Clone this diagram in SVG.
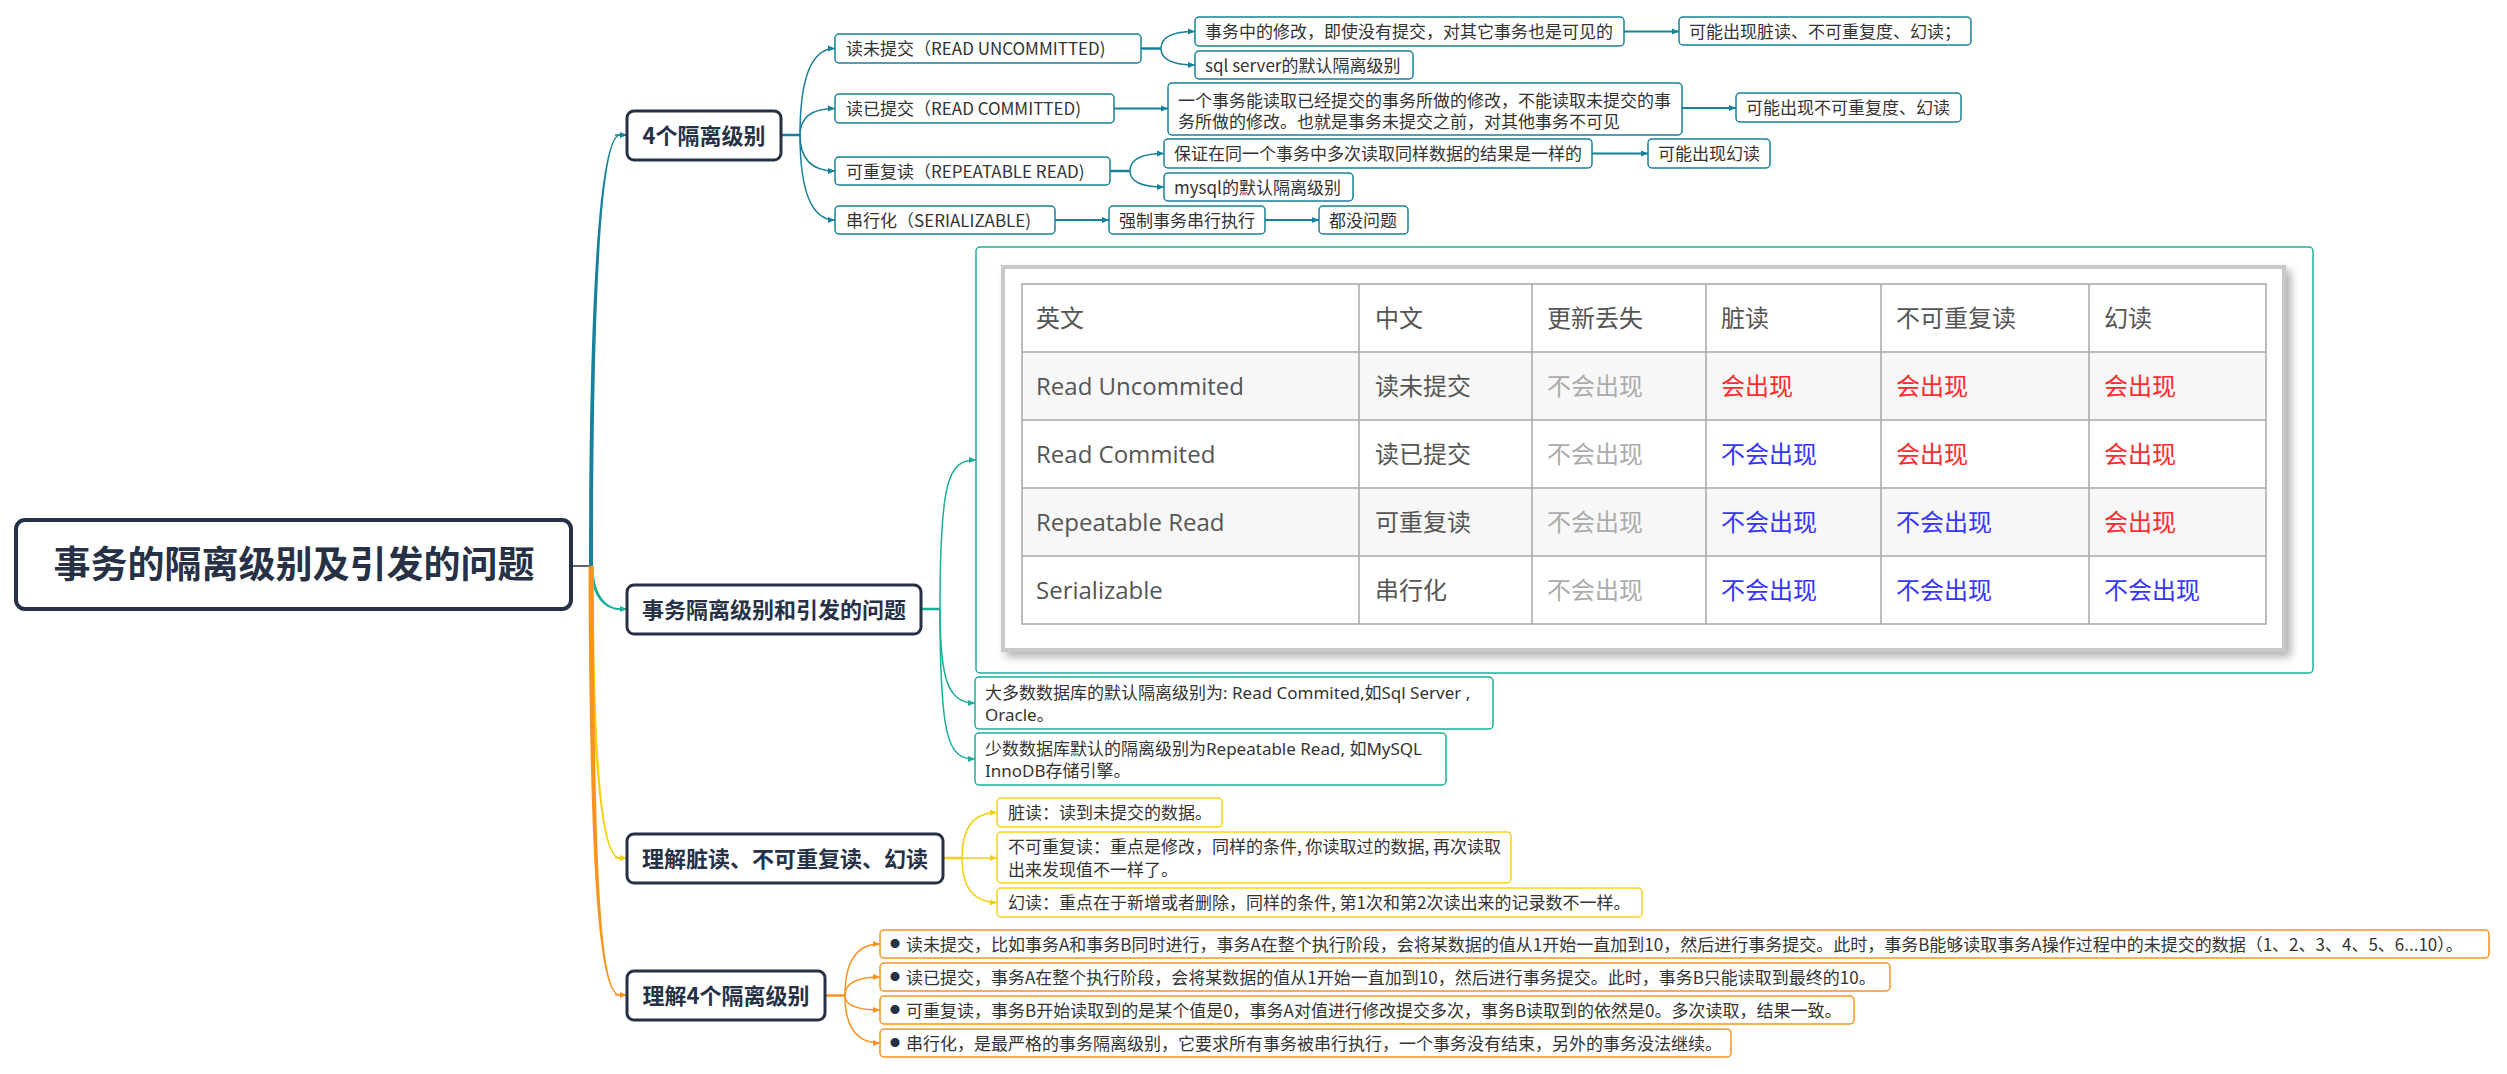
<svg xmlns="http://www.w3.org/2000/svg" width="2507" height="1074" viewBox="0 0 2507 1074">
<defs>
<style>
.bg{fill:#ffffff}
.box-root{fill:#fff;stroke:#263146;stroke-width:4}
.box-l1{fill:#fff;stroke:#263146;stroke-width:3}
.box-b{fill:#fff;stroke:#17809a;stroke-width:1.5}
.box-g{fill:#fff;stroke:#1aae9a;stroke-width:1.5}
.box-y{fill:#fff;stroke:#f7d116;stroke-width:1.5}
.box-o{fill:#fff;stroke:#f8931f;stroke-width:1.5}
.t-root{font-family:"Noto Sans CJK SC",sans-serif;font-weight:700;font-size:37px;fill:#263146;text-anchor:middle}
.t-l1{font-family:"Noto Sans CJK SC",sans-serif;font-weight:700;font-size:22px;fill:#263146;text-anchor:middle}
.t{font-family:"Noto Sans CJK SC",sans-serif;font-size:17px;fill:#333}
.t-w{font-family:"Noto Sans","Noto Sans CJK SC",sans-serif;font-size:17px;fill:#333}
.bul{font-size:10px;fill:#263146}
.tb{font-family:"Open Sans","Noto Sans CJK SC",sans-serif;font-size:24px;fill:#555}
.gray{fill:#ababab}
.red{fill:#ff2b2b}
.blue{fill:#3535ff}
.grid{stroke:#a8a8a8;stroke-width:1.5;fill:none}
.band{fill:#f7f7f7}
.c-b{stroke:#17809a;fill:none}
.c-g{stroke:#1aae9a;fill:none}
.c-y{stroke:#f5cf10;fill:none}
.c-o{stroke:#f8931f;fill:none}
.stub{stroke-width:2.5}
.crv{stroke-width:1.5}
.ab{marker-end:url(#mk-b)}
.ag{marker-end:url(#mk-g)}
.ay{marker-end:url(#mk-y)}
.ao{marker-end:url(#mk-o)}
</style>
<marker id="mk-b" markerUnits="userSpaceOnUse" viewBox="0 0 8 8" markerWidth="7" markerHeight="7" refX="8" refY="4" orient="auto"><path d="M0,0.5 L8,4 L0,7.5 z" fill="#17809a"/></marker>
<marker id="mk-g" markerUnits="userSpaceOnUse" viewBox="0 0 8 8" markerWidth="7" markerHeight="7" refX="8" refY="4" orient="auto"><path d="M0,0.5 L8,4 L0,7.5 z" fill="#1aae9a"/></marker>
<marker id="mk-y" markerUnits="userSpaceOnUse" viewBox="0 0 8 8" markerWidth="7" markerHeight="7" refX="8" refY="4" orient="auto"><path d="M0,0.5 L8,4 L0,7.5 z" fill="#f5cf10"/></marker>
<marker id="mk-o" markerUnits="userSpaceOnUse" viewBox="0 0 8 8" markerWidth="7" markerHeight="7" refX="8" refY="4" orient="auto"><path d="M0,0.5 L8,4 L0,7.5 z" fill="#f8931f"/></marker>
<filter id="shadow" x="-5%" y="-5%" width="115%" height="120%">
<feDropShadow dx="5" dy="5" stdDeviation="4" flood-color="#000" flood-opacity="0.3"/>
</filter>
</defs>
<rect class="bg" x="0" y="0" width="2507" height="1074"/>

<g id="connectors">
  <path d="M572 566 L591 566" stroke="#263146" stroke-width="1.5" fill="none"/>
  <path d="M589 566 C589 300 599 134.2 620 134.2 L620 135.8 C601 135.8 593 300 593 566 Z" fill="#17809a"/>
  <path class="c-b crv ab" d="M615 135 L627 135"/>
  <path d="M590.5 566 C590.5 596 604 609.8 620 609.8 L620 608.2 C606 608.2 593.5 594 593.5 566 Z" fill="#1aae9a"/>
  <path class="c-g crv ag" d="M615 609 L627 609"/>
  <path d="M590.5 566 C591.5 750 599 858.8 620 858.8 L620 857.2 C601 857.2 594.5 750 593.5 566 Z" fill="#f5cf10"/>
  <path class="c-y crv ay" d="M615 858 L627 858"/>
  <path d="M588.5 566 C589.5 850 597 995.8 620 995.8 L620 994.2 C599 994.2 594.5 850 593.5 566 Z" fill="#f8931f"/>
  <path class="c-o crv ao" d="M615 995 L627 995"/>

  <path class="c-b stub" d="M781 135 L800 135"/>
  <path class="c-b crv ab" d="M800 135 Q800 48.5 835 48.5"/>
  <path class="c-b crv ab" d="M800 135 Q800 108.5 835 108.5"/>
  <path class="c-b crv ab" d="M800 135 Q800 171 835 171"/>
  <path class="c-b crv ab" d="M800 135 Q800 220 835 220"/>
  <path class="c-b stub" d="M1141 48.5 L1161 48.5"/>
  <path class="c-b crv ab" d="M1161 48.5 Q1161 31.5 1195 31.5"/>
  <path class="c-b crv ab" d="M1161 48.5 Q1161 65 1195 65"/>
  <path class="c-b crv ab" style="stroke-width:2" d="M1114 108.5 L1168 108.5"/>
  <path class="c-b crv ab" style="stroke-width:2" d="M1624 31.5 L1679 31.5"/>
  <path class="c-b crv ab" style="stroke-width:2" d="M1682 108 L1736 108"/>
  <path class="c-b stub" d="M1110 171 L1130 171"/>
  <path class="c-b crv ab" d="M1130 171 Q1130 153.5 1164 153.5"/>
  <path class="c-b crv ab" d="M1130 171 Q1130 187 1164 187"/>
  <path class="c-b crv ab" style="stroke-width:2" d="M1592 153.5 L1648 153.5"/>
  <path class="c-b crv ab" style="stroke-width:2" d="M1055 220 L1109 220"/>
  <path class="c-b crv ab" style="stroke-width:2" d="M1265 220 L1319 220"/>

  <path class="c-g stub" d="M921 609 L940 609"/>
  <path class="c-g crv ag" d="M940 609 C940 480 948 460 976 460"/>
  <path class="c-g crv ag" d="M940 609 C940 680 948 703 975 703"/>
  <path class="c-g crv ag" d="M940 609 C940 740 948 759 975 759"/>

  <path class="c-y stub" d="M943 858 L962 858"/>
  <path class="c-y crv ay" d="M962 858 Q962 812.5 997 812.5"/>
  <path class="c-y crv ay" d="M962 858 L997 858"/>
  <path class="c-y crv ay" d="M962 858 Q962 902.5 997 902.5"/>

  <path class="c-o stub" d="M825 995.5 L845 995.5"/>
  <path class="c-o crv ao" d="M845 995.5 Q845 944 880 944"/>
  <path class="c-o crv ao" d="M845 995.5 Q845 977 880 977"/>
  <path class="c-o crv ao" d="M845 995.5 Q845 1010 880 1010"/>
  <path class="c-o crv ao" d="M845 995.5 Q845 1043 880 1043"/>
</g>

<g id="root">
  <rect class="box-root" x="16" y="520" width="555" height="89" rx="9"/>
  <text class="t-root" x="294" y="578">事务的隔离级别及引发的问题</text>
</g>

<g id="n1">
  <rect class="box-l1" x="627" y="111" width="154" height="49" rx="7"/>
  <text class="t-l1" x="704" y="144">4个隔离级别</text>
</g>
<g id="n2">
  <rect class="box-l1" x="627" y="585" width="294" height="49" rx="7"/>
  <text class="t-l1" x="774" y="618">事务隔离级别和引发的问题</text>
</g>
<g id="n3">
  <rect class="box-l1" x="627" y="834" width="316" height="49" rx="7"/>
  <text class="t-l1" x="785" y="867">理解脏读、不可重复读、幻读</text>
</g>
<g id="n4">
  <rect class="box-l1" x="627" y="971" width="198" height="49" rx="7"/>
  <text class="t-l1" x="726" y="1004">理解4个隔离级别</text>
</g>

<g id="a1">
  <rect class="box-b" x="835" y="34" width="306" height="29" rx="4"/>
  <text class="t" x="846" y="55">读未提交（READ UNCOMMITTED)</text>
</g>
<g id="a2">
  <rect class="box-b" x="835" y="94" width="279" height="29" rx="4"/>
  <text class="t" x="846" y="115">读已提交（READ COMMITTED)</text>
</g>
<g id="a3">
  <rect class="box-b" x="835" y="157" width="275" height="28" rx="4"/>
  <text class="t" x="846" y="177.5">可重复读（REPEATABLE READ)</text>
</g>
<g id="a4">
  <rect class="box-b" x="835" y="206" width="220" height="28" rx="4"/>
  <text class="t" x="846" y="226.5">串行化（SERIALIZABLE)</text>
</g>
<g id="a1a">
  <rect class="box-b" x="1195" y="17" width="429" height="29" rx="4"/>
  <text class="t" x="1205" y="38">事务中的修改，即使没有提交，对其它事务也是可见的</text>
</g>
<g id="a1b">
  <rect class="box-b" x="1195" y="51" width="218" height="28" rx="4"/>
  <text class="t" x="1205" y="71.5">sql server的默认隔离级别</text>
</g>
<g id="a2a">
  <rect class="box-b" x="1168" y="83" width="514" height="52" rx="4"/>
  <text class="t" x="1178" y="106.5">一个事务能读取已经提交的事务所做的修改，不能读取未提交的事</text>
  <text class="t" x="1178" y="128">务所做的修改。也就是事务未提交之前，对其他事务不可见</text>
</g>
<g id="a3a">
  <rect class="box-b" x="1164" y="139" width="428" height="29" rx="4"/>
  <text class="t" x="1174" y="160">保证在同一个事务中多次读取同样数据的结果是一样的</text>
</g>
<g id="a3b">
  <rect class="box-b" x="1164" y="173" width="189" height="28" rx="4"/>
  <text class="t" x="1174" y="193.5">mysql的默认隔离级别</text>
</g>
<g id="a4a">
  <rect class="box-b" x="1109" y="206" width="156" height="28" rx="4"/>
  <text class="t" x="1119" y="226.5">强制事务串行执行</text>
</g>
<g id="a1a1">
  <rect class="box-b" x="1679" y="17" width="292" height="28" rx="4"/>
  <text class="t" x="1689" y="37.5">可能出现脏读、不可重复度、幻读；</text>
</g>
<g id="a2a1">
  <rect class="box-b" x="1736" y="93" width="225" height="29" rx="4"/>
  <text class="t" x="1746" y="114">可能出现不可重复度、幻读</text>
</g>
<g id="a3a1">
  <rect class="box-b" x="1648" y="139" width="122" height="29" rx="4"/>
  <text class="t" x="1658" y="160">可能出现幻读</text>
</g>
<g id="a4a1">
  <rect class="box-b" x="1319" y="206" width="89" height="28" rx="4"/>
  <text class="t" x="1329" y="226.5">都没问题</text>
</g>

<g id="b1-table">
  <rect class="box-g" x="976" y="247" width="1337" height="426" rx="4"/>
  <rect x="1003" y="267" width="1281" height="383" fill="#fff" stroke="#c9c9c9" stroke-width="4" filter="url(#shadow)"/>
  <rect class="band" x="1022" y="352" width="1244" height="68"/>
  <rect class="band" x="1022" y="488" width="1244" height="68"/>
  <rect class="grid" x="1022" y="284" width="1244" height="340"/>
  <path class="grid" d="M1022 352 H2266 M1022 420 H2266 M1022 488 H2266 M1022 556 H2266 M1359 284 V624 M1532 284 V624 M1706 284 V624 M1881 284 V624 M2089 284 V624"/>
  <text class="tb" x="1036" y="327">英文</text>
  <text class="tb" x="1375" y="327">中文</text>
  <text class="tb" x="1547" y="327">更新丢失</text>
  <text class="tb" x="1721" y="327">脏读</text>
  <text class="tb" x="1896" y="327">不可重复读</text>
  <text class="tb" x="2104" y="327">幻读</text>

  <text class="tb" x="1036" y="395">Read Uncommited</text>
  <text class="tb" x="1375" y="395">读未提交</text>
  <text class="tb gray" x="1547" y="395">不会出现</text>
  <text class="tb red" x="1721" y="395">会出现</text>
  <text class="tb red" x="1896" y="395">会出现</text>
  <text class="tb red" x="2104" y="395">会出现</text>

  <text class="tb" x="1036" y="463">Read Commited</text>
  <text class="tb" x="1375" y="463">读已提交</text>
  <text class="tb gray" x="1547" y="463">不会出现</text>
  <text class="tb blue" x="1721" y="463">不会出现</text>
  <text class="tb red" x="1896" y="463">会出现</text>
  <text class="tb red" x="2104" y="463">会出现</text>

  <text class="tb" x="1036" y="531">Repeatable Read</text>
  <text class="tb" x="1375" y="531">可重复读</text>
  <text class="tb gray" x="1547" y="531">不会出现</text>
  <text class="tb blue" x="1721" y="531">不会出现</text>
  <text class="tb blue" x="1896" y="531">不会出现</text>
  <text class="tb red" x="2104" y="531">会出现</text>

  <text class="tb" x="1036" y="599">Serializable</text>
  <text class="tb" x="1375" y="599">串行化</text>
  <text class="tb gray" x="1547" y="599">不会出现</text>
  <text class="tb blue" x="1721" y="599">不会出现</text>
  <text class="tb blue" x="1896" y="599">不会出现</text>
  <text class="tb blue" x="2104" y="599">不会出现</text>
</g>
<g id="b2">
  <rect class="box-g" x="975" y="677" width="518" height="52" rx="4"/>
  <text class="t-w" x="985" y="699">大多数数据库的默认隔离级别为: Read Commited,如Sql Server ,</text>
  <text class="t-w" x="985" y="721">Oracle。</text>
</g>
<g id="b3">
  <rect class="box-g" x="975" y="733" width="471" height="52" rx="4"/>
  <text class="t-w" x="985" y="755">少数数据库默认的隔离级别为Repeatable Read, 如MySQL</text>
  <text class="t-w" x="985" y="777">InnoDB存储引擎。</text>
</g>

<g id="c1">
  <rect class="box-y" x="997" y="798" width="225" height="29" rx="4"/>
  <text class="t" x="1008" y="819">脏读：读到未提交的数据。</text>
</g>
<g id="c2">
  <rect class="box-y" x="997" y="832" width="514" height="51" rx="4"/>
  <text class="t" x="1008" y="853">不可重复读：重点是修改，同样的条件, 你读取过的数据, 再次读取</text>
  <text class="t" x="1008" y="876">出来发现值不一样了。</text>
</g>
<g id="c3">
  <rect class="box-y" x="997" y="888" width="645" height="29" rx="4"/>
  <text class="t" x="1008" y="909">幻读：重点在于新增或者删除，同样的条件, 第1次和第2次读出来的记录数不一样。</text>
</g>

<g id="d1">
  <rect class="box-o" x="880" y="930" width="1609" height="28" rx="4"/>
  <text class="t"><tspan class="bul" x="890" y="948">●</tspan><tspan x="906" y="950.5">读未提交，比如事务A和事务B同时进行，事务A在整个执行阶段，会将某数据的值从1开始一直加到10，然后进行事务提交。此时，事务B能够读取事务A操作过程中的未提交的数据（1、2、3、4、5、6...10）。</tspan></text>
</g>
<g id="d2">
  <rect class="box-o" x="880" y="963" width="1010" height="28" rx="4"/>
  <text class="t"><tspan class="bul" x="890" y="981">●</tspan><tspan x="906" y="983.5">读已提交，事务A在整个执行阶段，会将某数据的值从1开始一直加到10，然后进行事务提交。此时，事务B只能读取到最终的10。</tspan></text>
</g>
<g id="d3">
  <rect class="box-o" x="880" y="996" width="974" height="28" rx="4"/>
  <text class="t"><tspan class="bul" x="890" y="1014">●</tspan><tspan x="906" y="1016.5">可重复读，事务B开始读取到的是某个值是0，事务A对值进行修改提交多次，事务B读取到的依然是0。多次读取，结果一致。</tspan></text>
</g>
<g id="d4">
  <rect class="box-o" x="880" y="1029" width="851" height="28" rx="4"/>
  <text class="t"><tspan class="bul" x="890" y="1047">●</tspan><tspan x="906" y="1049.5">串行化，是最严格的事务隔离级别，它要求所有事务被串行执行，一个事务没有结束，另外的事务没法继续。</tspan></text>
</g>
</svg>
